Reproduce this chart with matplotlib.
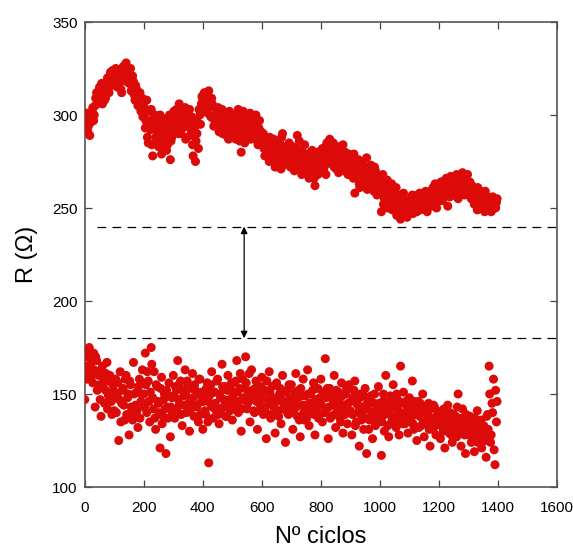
import matplotlib
matplotlib.use("Agg")
import matplotlib.pyplot as plt
import numpy as np

plt.rcParams['font.family'] = ['Liberation Sans', 'DejaVu Sans']

# cycle number of each sample (two interleaved sets, every 5 cycles)
ciclos = np.arange(0, 1400, 5)
ciclos_b = np.arange(2, 1400, 5)

# upper branch, R in ohm
r_alta = [
    293, 298, 291, 300, 296, 302, 297, 305, 312, 308, 315, 310, 306, 313, 309, 318, 314, 321, 316, 324,
    319, 325, 315, 322, 318, 312, 326, 320, 328, 323, 317, 325, 313, 318, 308, 314, 305, 311, 302, 309,
    300, 293, 308, 285, 297, 303, 278, 298, 288, 294, 283, 300, 279, 292, 287, 296, 284, 291, 276, 288,
    298, 292, 303, 296, 306, 290, 300, 295, 304, 288, 298, 303, 292, 284, 297, 275, 290, 282, 300, 306,
    308, 312, 303, 310, 313, 305, 309, 298, 304, 295, 301, 291, 298, 303, 293, 300, 289, 296, 302, 292,
    298, 290, 300, 294, 303, 286, 280, 297, 291, 299, 288, 295, 301, 289, 297, 292, 300, 286, 293, 288,
    284, 290, 278, 286, 281, 275, 284, 279, 287, 272, 280, 276, 285, 271, 290, 278, 283, 274, 281, 277,
    276, 283, 270, 279, 289, 274, 281, 268, 277, 284, 272, 279, 266, 275, 281, 270, 262, 276, 268, 273,
    276, 282, 271, 279, 285, 274, 287, 278, 283, 272, 280, 276, 269, 281, 275, 284, 270, 277, 273, 279,
    271, 276, 266, 258, 273, 269, 263, 275, 267, 271, 264, 277, 262, 268, 273, 265, 259, 270, 257, 265,
    262, 248, 268, 255, 260, 265, 252, 258, 263, 250, 256, 261, 247, 254, 244, 252, 258, 246, 253, 249,
    254, 249, 257, 251, 255, 248, 253, 258, 250, 256, 252, 259, 248, 254, 257, 251, 261, 255, 259, 253,
    262, 256, 264, 258, 260, 266, 251, 263, 267, 259, 264, 261, 268, 255, 263, 266, 269, 260, 265, 262,
    258, 264, 255, 260, 252, 257, 249, 254, 259, 251, 256, 248, 253, 250, 255, 252, 249, 254, 251, 253,
]
r_alta_b = [
    296, 301, 294, 289, 299, 304, 300, 309, 306, 313, 311, 317, 311, 308, 316, 320, 312, 323, 319, 317,
    322, 317, 320, 324, 314, 321, 323, 327, 318, 321, 320, 313, 321, 311, 316, 310, 307, 312, 304, 299,
    304, 297, 288, 302, 292, 284, 295, 300, 292, 286, 296, 290, 283, 298, 293, 281, 290, 300, 286, 294,
    302, 295, 299, 290, 303, 297, 293, 301, 287, 300, 294, 289, 299, 278, 293, 286, 296, 303, 295, 310,
    305, 309, 311, 301, 307, 299, 306, 294, 300, 297, 304, 295, 300, 290, 297, 293, 301, 287, 298, 295,
    293, 297, 287, 299, 292, 296, 289, 302, 285, 294, 298, 291, 287, 296, 290, 294, 288, 284, 297, 291,
    287, 282, 288, 283, 278, 288, 282, 276, 283, 278, 283, 274, 280, 288, 273, 282, 276, 279, 285, 272,
    280, 278, 274, 282, 277, 286, 271, 280, 275, 270, 279, 274, 276, 270, 278, 266, 273, 280, 271, 277,
    273, 279, 275, 268, 281, 277, 282, 274, 285, 277, 271, 283, 278, 273, 279, 272, 280, 275, 268, 276,
    275, 270, 279, 267, 272, 276, 261, 270, 274, 266, 270, 260, 272, 266, 262, 268, 272, 262, 267, 260,
    258, 264, 252, 262, 257, 250, 261, 255, 249, 259, 253, 246, 257, 250, 255, 247, 249, 254, 245, 251,
    252, 256, 247, 254, 250, 257, 251, 249, 255, 253, 250, 257, 253, 251, 259, 253, 256, 263, 250, 257,
    259, 264, 254, 261, 265, 258, 262, 256, 264, 262, 257, 266, 260, 265, 259, 267, 262, 257, 263, 268,
    261, 256, 262, 254, 259, 255, 261, 252, 250, 257, 253, 259, 250, 256, 252, 248, 256, 253, 250, 255,
]

# lower branch, R in ohm
r_baja = [
    147, 170, 163, 175, 166, 160, 172, 143, 168, 162, 155, 138, 165, 158, 152, 167, 149, 160, 146, 155,
    141, 158, 150, 125, 162, 145, 153, 136, 160, 148, 128, 155, 142, 167, 139, 151, 132, 158, 146, 163,
    150, 172, 140, 157, 135, 175, 148, 162, 131, 154, 145, 121, 159, 138, 150, 118, 143, 156, 127, 148,
    160, 137, 152, 168, 144, 157, 133, 149, 163, 140, 155, 130, 147, 161, 138, 152, 143, 135, 158, 146,
    131, 150, 139, 156, 113, 145, 162, 137, 151, 141, 158, 134, 148, 166, 143, 154, 138, 160, 147, 152,
    136, 156, 145, 168, 140, 153, 130, 158, 147, 170, 142, 151, 135, 163, 148, 140, 157, 131, 150, 144,
    159, 139, 152, 126, 147, 162, 137, 154, 143, 129, 156, 141, 150, 134, 160, 145, 124, 152, 139, 148,
    155, 131, 146, 161, 138, 152, 127, 149, 158, 136, 144, 163, 133, 150, 141, 156, 128, 147, 153, 139,
    158, 135, 149, 169, 142, 126, 153, 138, 147, 160, 132, 145, 151, 137, 156, 129, 143, 150, 134, 155,
    141, 128, 148, 157, 135, 144, 122, 150, 139, 131, 153, 118, 142, 136, 149, 126, 145, 133, 140, 154,
    137, 117, 146, 130, 160, 141, 127, 149, 135, 155, 143, 132, 147, 128, 165, 139, 151, 134, 144, 129,
    148, 136, 157, 131, 142, 125, 146, 138, 133, 150, 127, 140, 135, 145, 122, 137, 131, 143, 128, 139,
    134, 126, 141, 130, 121, 137, 144, 129, 133, 124, 139, 131, 127, 150, 135, 122, 142, 130, 118, 134,
    128, 138, 124, 133, 119, 130, 141, 126, 135, 121, 132, 127, 116, 139, 165, 124, 145, 158, 112, 135,
]
r_baja_b = [
    165, 158, 172, 161, 168, 156, 163, 170, 152, 160, 147, 163, 154, 145, 161, 142, 157, 150, 139, 152,
    149, 140, 156, 147, 135, 152, 144, 158, 139, 150, 157, 143, 136, 150, 144, 141, 154, 137, 150, 156,
    143, 155, 162, 146, 151, 166, 142, 137, 155, 146, 140, 153, 134, 147, 142, 152, 137, 149, 143, 140,
    149, 154, 142, 147, 156, 139, 152, 144, 150, 157, 145, 141, 153, 148, 155, 144, 150, 158, 139, 151,
    146, 141, 153, 135, 149, 155, 143, 151, 145, 157, 139, 150, 142, 154, 147, 138, 152, 145, 141, 156,
    149, 143, 157, 151, 146, 161, 142, 148, 153, 156, 145, 161, 147, 152, 141, 153, 146, 149, 141, 154,
    148, 152, 143, 157, 139, 151, 145, 148, 140, 155, 146, 138, 153, 147, 142, 151, 144, 140, 155, 143,
    146, 140, 151, 143, 148, 136, 153, 144, 140, 149, 137, 150, 145, 141, 152, 139, 147, 143, 137, 148,
    144, 151, 140, 148, 153, 143, 137, 150, 144, 139, 152, 141, 147, 135, 149, 144, 139, 153, 145, 140,
    146, 139, 152, 133, 145, 140, 148, 136, 143, 149, 137, 145, 131, 146, 140, 138, 150, 141, 136, 145,
    142, 135, 150, 139, 145, 133, 141, 147, 137, 144, 138, 150, 141, 136, 145, 134, 140, 146, 137, 141,
    138, 143, 134, 146, 139, 141, 132, 145, 140, 136, 143, 134, 139, 131, 142, 136, 144, 133, 138, 135,
    140, 133, 137, 142, 131, 138, 134, 140, 128, 136, 132, 138, 143, 134, 130, 137, 133, 128, 139, 131,
    135, 129, 134, 127, 137, 132, 124, 130, 136, 128, 133, 125, 138, 131, 150, 128, 140, 120, 152, 146,
]

limite_alto = 240
limite_bajo = 180
x_flecha = 540

rojo = '#dd0a0a'

fig = plt.figure(figsize=(5.73, 5.5), dpi=100)
ax = fig.add_axes([0.148, 0.1145, 0.824, 0.8455])

for xs, ys in [(ciclos, r_alta), (ciclos_b, r_alta_b), (ciclos, r_baja), (ciclos_b, r_baja_b)]:
    ax.scatter(xs, ys, s=42, color=rojo, edgecolors='none', zorder=3)

ax.plot([40, 1600], [limite_alto, limite_alto], color='black', lw=0.9, dashes=(7, 5))
ax.plot([40, 1600], [limite_bajo, limite_bajo], color='black', lw=0.9, dashes=(7, 5))
ax.annotate('', xy=(x_flecha, limite_alto), xytext=(x_flecha, limite_bajo),
            arrowprops=dict(arrowstyle='<|-|>', color='black', lw=0.9,
                            mutation_scale=10, shrinkA=0, shrinkB=0))

ax.set_xlim(0, 1600)
ax.set_ylim(100, 350)
ax.set_xticks(np.arange(0, 1601, 200))
ax.set_yticks(np.arange(100, 351, 50))
ax.tick_params(direction='in', top=True, right=True, length=5, width=0.9,
               color='#444444', labelsize=11)
ax.tick_params(axis='x', pad=10)
ax.tick_params(axis='y', pad=5)
for s in ax.spines.values():
    s.set_color('#555555')
    s.set_linewidth(1.2)

ax.set_xlabel('Nº ciclos', fontsize=17, labelpad=8)
ax.set_ylabel('R (Ω)', fontsize=17, labelpad=10)

fig.savefig('out.png', dpi=100)
